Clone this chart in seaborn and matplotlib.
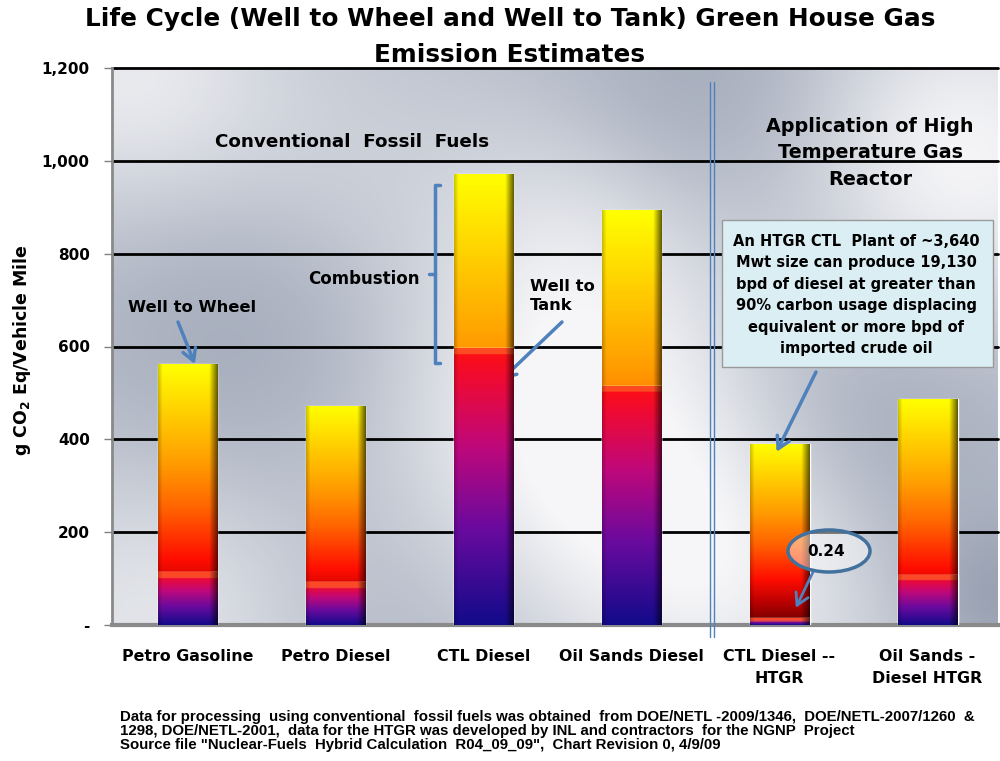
import numpy as np
import matplotlib
matplotlib.use("Agg")
import matplotlib.pyplot as plt
import seaborn as sns
import pandas as pd
from matplotlib.patches import Ellipse, Rectangle
from matplotlib.lines import Line2D
from matplotlib.colors import LinearSegmentedColormap, to_rgb

# ---------------- data ----------------
categories = ["Petro Gasoline", "Petro Diesel", "CTL Diesel", "Oil Sands Diesel",
              "CTL Diesel --\nHTGR", "Oil Sands -\nDiesel HTGR"]
well_to_wheel = [562, 472, 972, 894, 390, 486]   # total (well to wheel)
well_to_tank = [114, 92, 596, 515, 15, 108]      # well to tank portion
y_ticks = [0, 200, 400, 600, 800, 1000, 1200]
y_tick_labels = ["-", "200", "400", "600", "800", "1,000", "1,200"]

title = "Life Cycle (Well to Wheel and Well to Tank) Green House Gas\nEmission Estimates"
footnote = ("Data for processing  using conventional  fossil fuels was obtained  from DOE/NETL -2009/1346,  DOE/NETL-2007/1260  &\n"
            "1298, DOE/NETL-2001,  data for the HTGR was developed by INL and contractors  for the NGNP  Project\n"
            "Source file \"Nuclear-Fuels  Hybrid Calculation  R04_09_09\",  Chart Revision 0, 4/9/09")
box_text = ("An HTGR CTL  Plant of ~3,640\nMwt size can produce 19,130\nbpd of diesel at greater than\n"
            "90% carbon usage displacing\nequivalent or more bpd of\nimported crude oil")

df = pd.DataFrame({"fuel": categories, "wtw": well_to_wheel, "wtt": well_to_tank})

sns.set_theme(style="white")
plt.rcParams['font.family'] = ['DejaVu Sans']
plt.rcParams['font.weight'] = 'bold'
plt.rcParams['text.color'] = 'black'
plt.rcParams['axes.labelcolor'] = 'black'
plt.rcParams['xtick.color'] = 'black'
plt.rcParams['ytick.color'] = 'black'

W, H = 1000, 761
fig = plt.figure(figsize=(10, 7.61), dpi=100)
fig.patch.set_facecolor("white")
AX_L, AX_R, AX_T, AX_B = 112, 998, 68, 625
ax = fig.add_axes([AX_L / W, 1 - AX_B / H, (AX_R - AX_L) / W, (AX_B - AX_T) / H])
ax.set_facecolor("none")

def P(x, y):
    return (x / W, 1 - y / H)

# ---------------- background (metallic gradient) ----------------
X, Y = np.meshgrid(np.arange(AX_L, AX_R), np.arange(AX_T, AX_B))
field = np.full(X.shape, 0.5)
blobs = [(130, 80, 0.4, 110), (150, 610, 0.35, 120), (560, 450, 0.5, 140),
         (590, 230, 0.3, 110), (960, 160, 0.5, 120), (760, 560, 0.4, 120),
         (330, 180, 0.15, 100),
         (250, 330, -0.25, 130), (690, 110, -0.28, 110), (870, 440, -0.3, 110),
         (420, 600, -0.15, 100), (995, 600, -0.3, 60)]
for bx, by, a, s in blobs:
    field += a * np.exp(-((X - bx) ** 2 + (Y - by) ** 2) / (2 * s ** 2))
field = np.clip(field, 0, 1)
bg_cmap = LinearSegmentedColormap.from_list("bg", ["#878fa3", "#b9bfcb", "#f6f6f8"])
ax.imshow(bg_cmap(field), extent=[0, 1, 0, 1], transform=ax.transAxes,
          aspect="auto", origin="upper", zorder=0, interpolation="bilinear")

# ---------------- gridlines ----------------
for yv in y_ticks[1:]:
    ax.axhline(yv, color="black", lw=2, zorder=1, clip_on=False)

# ---------------- bars ----------------
bar_w = 0.405
sns.barplot(data=df, x="fuel", y="wtw", order=categories, color="#ffcc00",
            saturation=1, width=bar_w, ax=ax, zorder=2)
top_patches = list(ax.patches)
sns.barplot(data=df, x="fuel", y="wtt", order=categories, color="#7a0a9a",
            saturation=1, width=bar_w, ax=ax, zorder=3)
bot_patches = [p for p in ax.patches if p not in top_patches]

comb_cmap = LinearSegmentedColormap.from_list(
    "comb", [(0, "#6a0000"), (0.12, "#b80000"), (0.25, "#ff0d00"), (0.45, "#ff6400"),
             (0.62, "#ff9c00"), (0.85, "#ffd800"), (1.0, "#ffff00")])
wtt_cmap = LinearSegmentedColormap.from_list(
    "wtt", [(0, "#120a8a"), (0.35, "#6a0a9e"), (0.65, "#c0087a"), (0.9, "#f00a30"), (1.0, "#ff1010")])

def shade_cols(m):
    u = np.linspace(0, 1, m)
    f = np.ones(m)
    f = np.where(u < 0.07, 0.8 + 0.2 * (u / 0.07), f)
    f = np.where(u > 0.86, 1 - 0.6 * ((u - 0.86) / 0.14), f)
    return f

def make_img(cmap, n, m, band_frac=0.0, band_color=None):
    t = np.linspace(0, 1, n)
    cols = cmap(t)[:, :3]
    if band_color is not None and band_frac > 0:
        bc = np.array(to_rgb(band_color))
        mask = t > 1 - band_frac
        cols[mask] = 0.35 * cols[mask] + 0.65 * bc
    img = cols[:, None, :] * shade_cols(m)[None, :, None]
    return np.clip(img, 0, 1)

px_per_unit = (AX_B - AX_T) / 1200.0
for p in top_patches:
    x0, w, h = p.get_x(), p.get_width(), p.get_height()
    img = make_img(comb_cmap, 400, 60)
    im = ax.imshow(img, extent=[x0, x0 + w, 0, h], origin="lower", aspect="auto",
                   zorder=2.5, interpolation="bilinear")
    im.set_clip_path(p)
for p in bot_patches:
    x0, w, h = p.get_x(), p.get_width(), p.get_height()
    band = min(0.5, 6 / (h * px_per_unit)) if h > 0 else 0
    img = make_img(wtt_cmap, 400, 60, band_frac=band, band_color="#ff6a2a")
    im = ax.imshow(img, extent=[x0, x0 + w, 0, h], origin="lower", aspect="auto",
                   zorder=3.5, interpolation="bilinear")
    im.set_clip_path(p)

# ---------------- axes ----------------
ax.set_xlim(-0.51, 5.476)
ax.set_ylim(0, 1200)
ax.set_yticks(y_ticks)
ax.set_yticklabels(y_tick_labels, fontsize=11, fontweight="bold", color="black")
ax.tick_params(axis="y", direction="out", length=6, width=1, color="#808080",
               labelcolor="black", pad=10, left=True)
ax.tick_params(axis="x", length=0, pad=17, labelcolor="black")
for lbl in ax.get_xticklabels():
    lbl.set_fontsize(11.4)
    lbl.set_fontweight("bold")
    lbl.set_linespacing(1.6)
ax.set_xlabel("")
ax.set_ylabel("")
for side in ["top", "right"]:
    ax.spines[side].set_visible(False)
ax.spines["left"].set_color("#8a8a8a")
ax.spines["left"].set_linewidth(2)
ax.spines["bottom"].set_color("#8a8a8a")
ax.spines["bottom"].set_linewidth(3)

fig.text(0.022, 1 - 350 / H, r"g CO$_\mathbf{2}$ Eq/Vehicle Mile", rotation=90,
         ha="center", va="center", fontsize=12.5, fontweight="bold")

# ---------------- title ----------------
fig.text(*P(510, 37), title, ha="center", va="center", fontsize=17.8,
         fontweight="bold", linespacing=1.6)

# ---------------- annotations ----------------
blue = "#4f81bd"
fig.text(*P(352, 142), "Conventional  Fossil  Fuels", ha="center", va="center",
         fontsize=13.2, fontweight="bold")
fig.text(*P(870, 153), "Application of High\nTemperature Gas\nReactor", ha="center",
         va="center", fontsize=13.8, fontweight="bold", linespacing=1.5)
fig.text(*P(364, 279), "Combustion", ha="center", va="center", fontsize=12, fontweight="bold")
fig.text(*P(192, 308), "Well to Wheel", ha="center", va="center", fontsize=11.8, fontweight="bold")
fig.text(*P(530, 296), "Well to\nTank", ha="left", va="center", fontsize=11.8,
         fontweight="bold", linespacing=1.4)

arrow_kw = dict(arrowstyle="->,head_length=0.7,head_width=0.4", color=blue, lw=2.5,
                shrinkA=0, shrinkB=0)
ax.annotate("", xy=(0.05, 562), xycoords="data", xytext=P(178, 322),
            textcoords="figure fraction", arrowprops=arrow_kw)
ax.annotate("", xy=(2.12, 528), xycoords="data", xytext=P(562, 322),
            textcoords="figure fraction", arrowprops=arrow_kw)
ax.annotate("", xy=(3.98, 373), xycoords="data", xytext=P(816, 372),
            textcoords="figure fraction", arrowprops=arrow_kw)
ax.annotate("", xy=(4.11, 37), xycoords="data", xytext=P(813, 572),
            textcoords="figure fraction", arrowprops=dict(arrow_kw, lw=2), zorder=6)

# bracket for combustion
bx, bt, bb = 435, 185, 363
xs = [440, bx, bx, 440]
ys = [bt, bt, bb, bb]
fig.add_artist(Line2D([x / W for x in xs], [1 - y / H for y in ys], color=blue, lw=2.5,
                      transform=fig.transFigure))
fig.add_artist(Line2D([bx / W, 429 / W], [1 - 274 / H, 1 - 274 / H], color=blue, lw=2.5,
                      transform=fig.transFigure))

# separator double line
for sx in (710, 713.5):
    fig.add_artist(Line2D([sx / W, sx / W], [1 - 82 / H, 1 - 637 / H], color=blue, lw=1,
                          transform=fig.transFigure, zorder=7))

# text box
fig.add_artist(Rectangle(P(722, 367), 271 / W, 147 / H, transform=fig.transFigure,
                         facecolor="#dbeef3", edgecolor="#9a9a9a", lw=1, zorder=8))
fig.text(*P(856, 295), box_text, ha="center", va="center", fontsize=10.5,
         fontweight="bold", linespacing=1.55, zorder=9)

# ellipse with 0.24
fig.add_artist(Ellipse(P(829, 551), 82 / W, 42 / H, transform=fig.transFigure,
                       facecolor=(1, 1, 1, 0.45), edgecolor="#41719c", lw=2.5, zorder=8))
fig.text(*P(826, 551), "0.24", ha="center", va="center", fontsize=11, fontweight="bold", zorder=9)

# footnote
fig.text(120 / W, 1 - 710 / H, footnote, ha="left", va="top", fontsize=10.8,
         fontweight="bold", family=["Liberation Sans Narrow", "Liberation Sans"],
         linespacing=1.02)

fig.savefig("out.png", dpi=100, facecolor="white")
